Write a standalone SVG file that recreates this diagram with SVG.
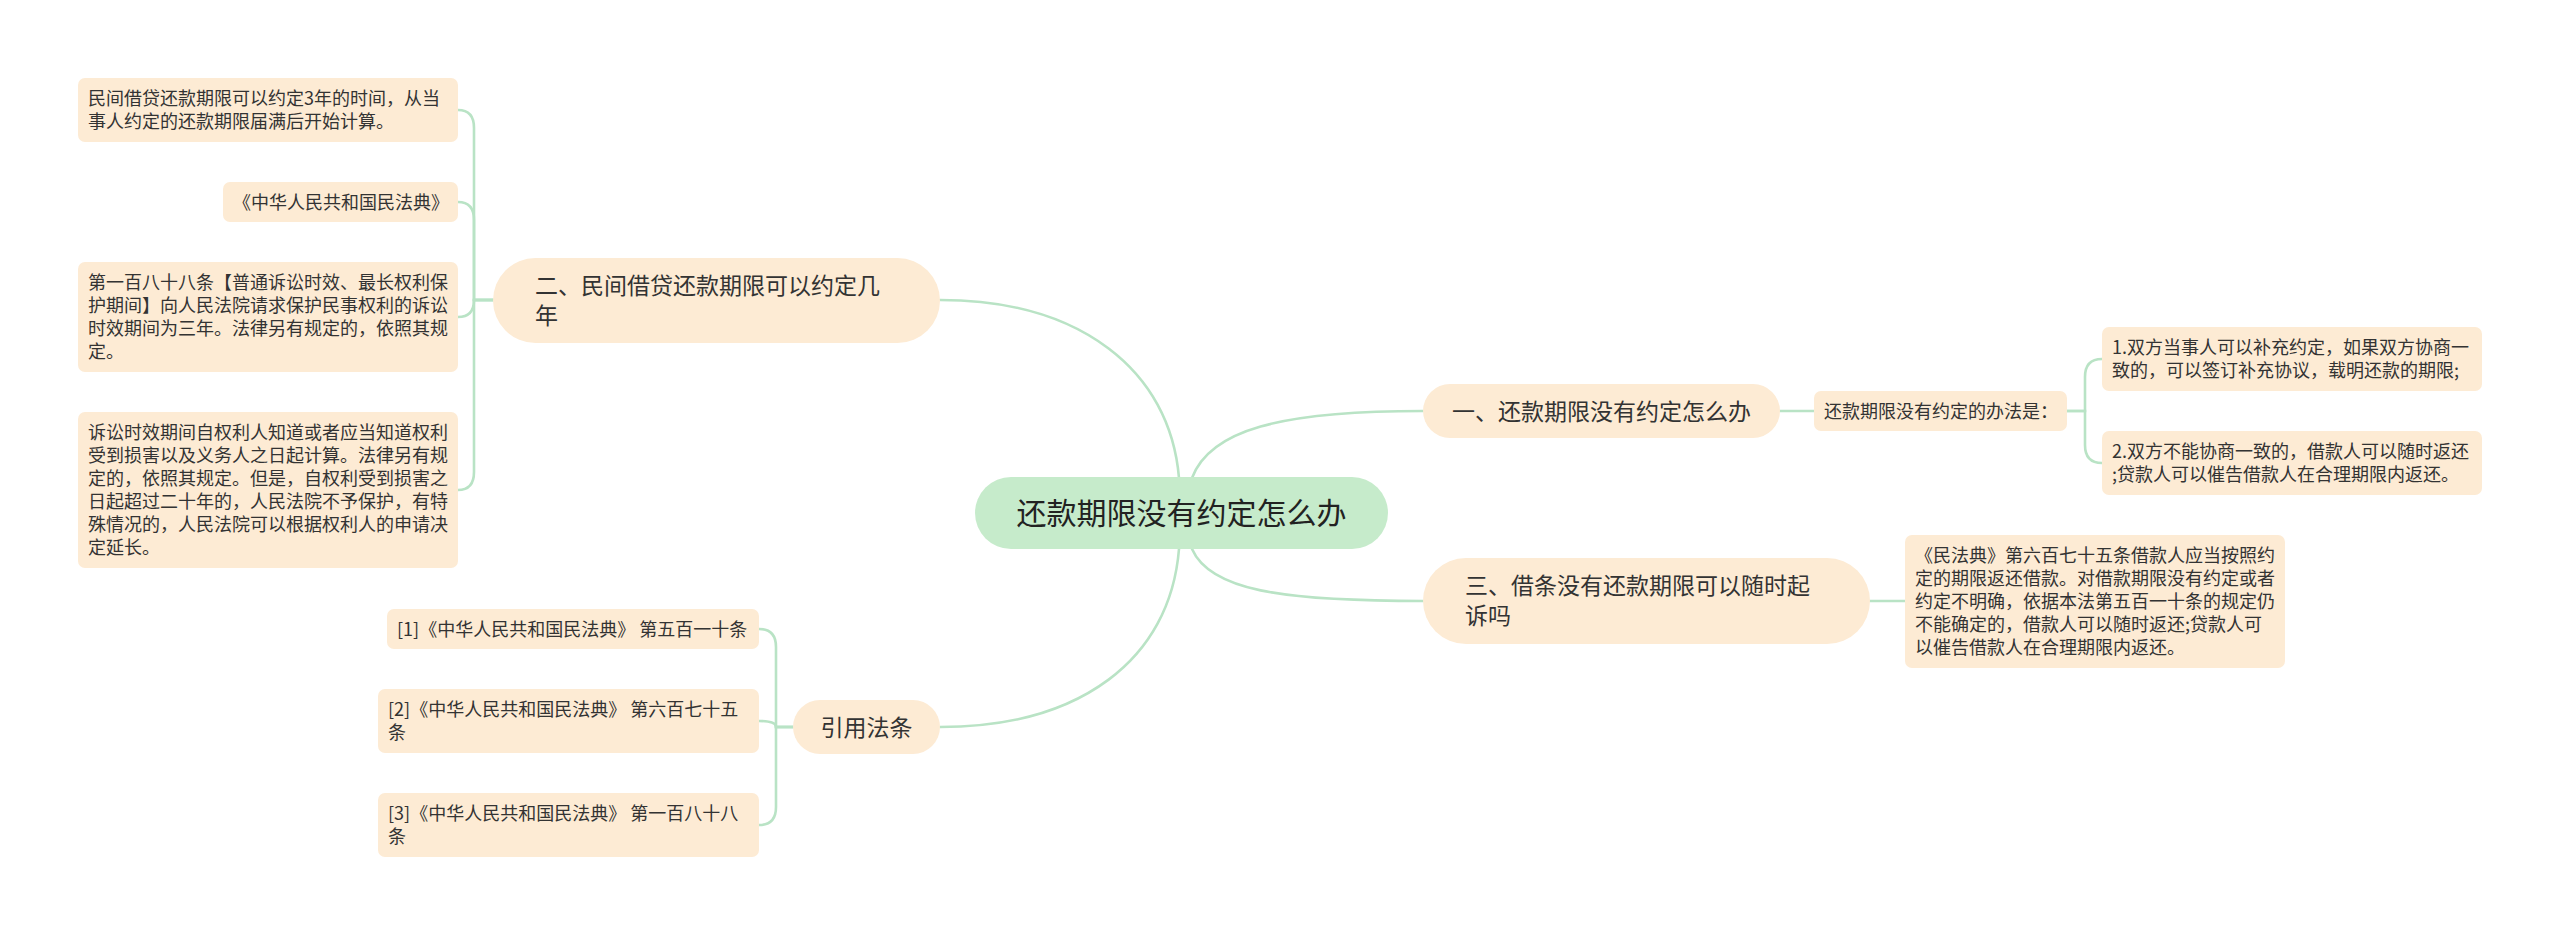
<svg xmlns="http://www.w3.org/2000/svg" width="2560" height="935" viewBox="0 0 2560 935">
<style>
.bg{fill:#ffffff}
.node{fill:#fdebd4}
.root{fill:#c6ebcb}
.t{font-family:"Noto Sans CJK SC","Microsoft YaHei",sans-serif;fill:#333333}
.s{font-size:18px}
.m{font-size:23px}
.l{font-size:30px;fill:#222222}
.c{text-anchor:middle}
.conn path{fill:none;stroke:#b9e3c5;stroke-width:2.6;stroke-linecap:round}
</style>
<rect class="bg" x="0" y="0" width="2560" height="935"/>
<g id="connectors" class="conn">
<path d="M 1179 478 C 1170 370 1080 300 940 300"/>
<path d="M 1192 478 C 1210 430 1280 411 1423 411"/>
<path d="M 1192 549 C 1210 590 1280 601 1423 601"/>
<path d="M 1179 549 C 1170 660 1080 727 940 727"/>
<path d="M 493 300 H 474 V 128 Q 474 110 458 110"/>
<path d="M 493 300 H 474 V 220 Q 474 202 458 202"/>
<path d="M 493 300 H 474 Q 474 317 458 317"/>
<path d="M 493 300 H 474 V 472 Q 474 490 458 490"/>
<path d="M 1780 411 H 1814"/>
<path d="M 2067 411 H 2085 V 377 Q 2085 359 2102 359"/>
<path d="M 2067 411 H 2085 V 445 Q 2085 463 2102 463"/>
<path d="M 1870 601 H 1905"/>
<path d="M 793 727 H 776 V 647 Q 776 629 759 629"/>
<path d="M 793 727 H 776 Q 776 721 759 721"/>
<path d="M 793 727 H 776 V 807 Q 776 825 759 825"/>
</g>
<g id="root">
<rect class="root" x="975" y="477" width="413" height="72" rx="36"/>
<text class="t l c" x="1181.5" y="524">还款期限没有约定怎么办</text>
</g>
<g id="n2">
<rect class="node" x="493" y="258" width="447" height="85" rx="42.5"/>
<text class="t m" x="535" y="294">二、民间借贷还款期限可以约定几</text>
<text class="t m" x="535" y="324">年</text>
</g>
<g id="n2a">
<rect class="node" x="78" y="78" width="380" height="64" rx="7"/>
<text class="t s" x="88" y="105">民间借贷还款期限可以约定3年的时间，从当</text>
<text class="t s" x="88" y="128">事人约定的还款期限届满后开始计算。</text>
</g>
<g id="n2b">
<rect class="node" x="223" y="182" width="235" height="40" rx="7"/>
<text class="t s" x="233" y="208.5">《中华人民共和国民法典》</text>
</g>
<g id="n2c">
<rect class="node" x="78" y="262" width="380" height="110" rx="7"/>
<text class="t s" x="88" y="289">第一百八十八条【普通诉讼时效、最长权利保</text>
<text class="t s" x="88" y="312">护期间】向人民法院请求保护民事权利的诉讼</text>
<text class="t s" x="88" y="335">时效期间为三年。法律另有规定的，依照其规</text>
<text class="t s" x="88" y="358">定。</text>
</g>
<g id="n2d">
<rect class="node" x="78" y="412" width="380" height="156" rx="7"/>
<text class="t s" x="88" y="439">诉讼时效期间自权利人知道或者应当知道权利</text>
<text class="t s" x="88" y="462">受到损害以及义务人之日起计算。法律另有规</text>
<text class="t s" x="88" y="485">定的，依照其规定。但是，自权利受到损害之</text>
<text class="t s" x="88" y="508">日起超过二十年的，人民法院不予保护，有特</text>
<text class="t s" x="88" y="531">殊情况的，人民法院可以根据权利人的申请决</text>
<text class="t s" x="88" y="554">定延长。</text>
</g>
<g id="n1">
<rect class="node" x="1423" y="384" width="357" height="54" rx="27"/>
<text class="t m c" x="1601.5" y="419.5">一、还款期限没有约定怎么办</text>
</g>
<g id="n1a">
<rect class="node" x="1814" y="391" width="253" height="40" rx="7"/>
<text class="t s" x="1824" y="417.5">还款期限没有约定的办法是：</text>
</g>
<g id="n1b">
<rect class="node" x="2102" y="327" width="380" height="64" rx="7"/>
<text class="t s" x="2112" y="354">1.双方当事人可以补充约定，如果双方协商一</text>
<text class="t s" x="2112" y="377">致的，可以签订补充协议，载明还款的期限;</text>
</g>
<g id="n1c">
<rect class="node" x="2102" y="431" width="380" height="64" rx="7"/>
<text class="t s" x="2112" y="458">2.双方不能协商一致的，借款人可以随时返还</text>
<text class="t s" x="2112" y="481">;贷款人可以催告借款人在合理期限内返还。</text>
</g>
<g id="n3">
<rect class="node" x="1423" y="558" width="447" height="86" rx="43"/>
<text class="t m" x="1465" y="594">三、借条没有还款期限可以随时起</text>
<text class="t m" x="1465" y="624">诉吗</text>
</g>
<g id="n3a">
<rect class="node" x="1905" y="535" width="380" height="133" rx="7"/>
<text class="t s" x="1915" y="562">《民法典》第六百七十五条借款人应当按照约</text>
<text class="t s" x="1915" y="585">定的期限返还借款。对借款期限没有约定或者</text>
<text class="t s" x="1915" y="608">约定不明确，依据本法第五百一十条的规定仍</text>
<text class="t s" x="1915" y="631">不能确定的，借款人可以随时返还;贷款人可</text>
<text class="t s" x="1915" y="654">以催告借款人在合理期限内返还。</text>
</g>
<g id="n4">
<rect class="node" x="793" y="700" width="147" height="54" rx="27"/>
<text class="t m c" x="866.5" y="735.5">引用法条</text>
</g>
<g id="n4a">
<rect class="node" x="387" y="609" width="372" height="40" rx="7"/>
<text class="t s" x="397" y="635.5">[1]《中华人民共和国民法典》 第五百一十条</text>
</g>
<g id="n4b">
<rect class="node" x="378" y="689" width="381" height="64" rx="7"/>
<text class="t s" x="388" y="716">[2]《中华人民共和国民法典》 第六百七十五</text>
<text class="t s" x="388" y="739">条</text>
</g>
<g id="n4c">
<rect class="node" x="378" y="793" width="381" height="64" rx="7"/>
<text class="t s" x="388" y="820">[3]《中华人民共和国民法典》 第一百八十八</text>
<text class="t s" x="388" y="843">条</text>
</g>
</svg>
